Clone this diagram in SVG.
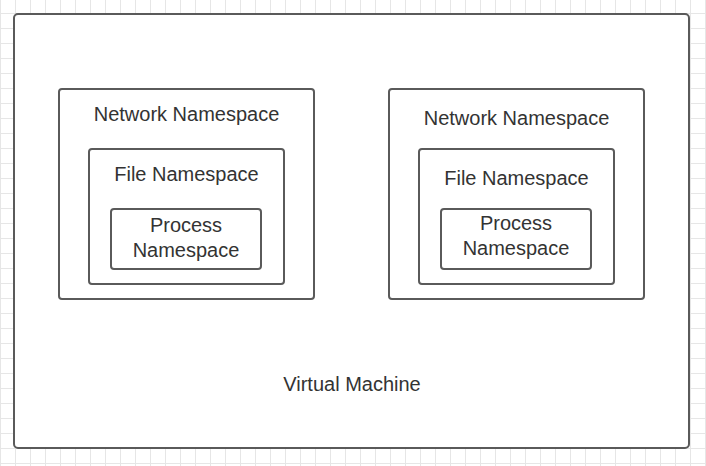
<svg xmlns="http://www.w3.org/2000/svg" width="706" height="466" viewBox="0 0 706 466">
<defs>
<pattern id="grid" x="0" y="13" width="15" height="15" patternUnits="userSpaceOnUse">
<path d="M0.5 0 V15 M0 0.5 H15" fill="none" stroke="#e6e6e6" stroke-width="1"/>
</pattern>
</defs>
<style>
.box{fill:#ffffff;stroke:#5a5a5a;stroke-width:2}
.t{font-family:"Liberation Sans",Arial,sans-serif;font-size:20px;fill:#333333;text-anchor:middle}
</style>
<rect x="0" y="0" width="706" height="466" fill="#ffffff"/>
<rect x="0" y="0" width="706" height="466" fill="url(#grid)"/>
<g id="vm">
<rect class="box" x="14" y="14" width="675" height="434" rx="4"/>
<text class="t" x="352" y="391">Virtual Machine</text>
</g>
<g id="net1">
<rect class="box" x="59" y="89" width="255" height="210" rx="3"/>
<text class="t" x="186.5" y="121">Network Namespace</text>
</g>
<g id="file1">
<rect class="box" x="89" y="149" width="195" height="135" rx="3"/>
<text class="t" x="186.5" y="181">File Namespace</text>
</g>
<g id="proc1">
<rect class="box" x="111" y="209" width="150" height="60" rx="3"/>
<text class="t" x="186" y="232">Process</text>
<text class="t" x="186" y="257">Namespace</text>
</g>
<g id="net2">
<rect class="box" x="389" y="89" width="255" height="210" rx="3"/>
<text class="t" x="516.5" y="125">Network Namespace</text>
</g>
<g id="file2">
<rect class="box" x="419" y="149" width="195" height="135" rx="3"/>
<text class="t" x="516.5" y="185">File Namespace</text>
</g>
<g id="proc2">
<rect class="box" x="441" y="209" width="150" height="60" rx="3"/>
<text class="t" x="516" y="230">Process</text>
<text class="t" x="516" y="255">Namespace</text>
</g>
<g id="connectors"/>
</svg>
